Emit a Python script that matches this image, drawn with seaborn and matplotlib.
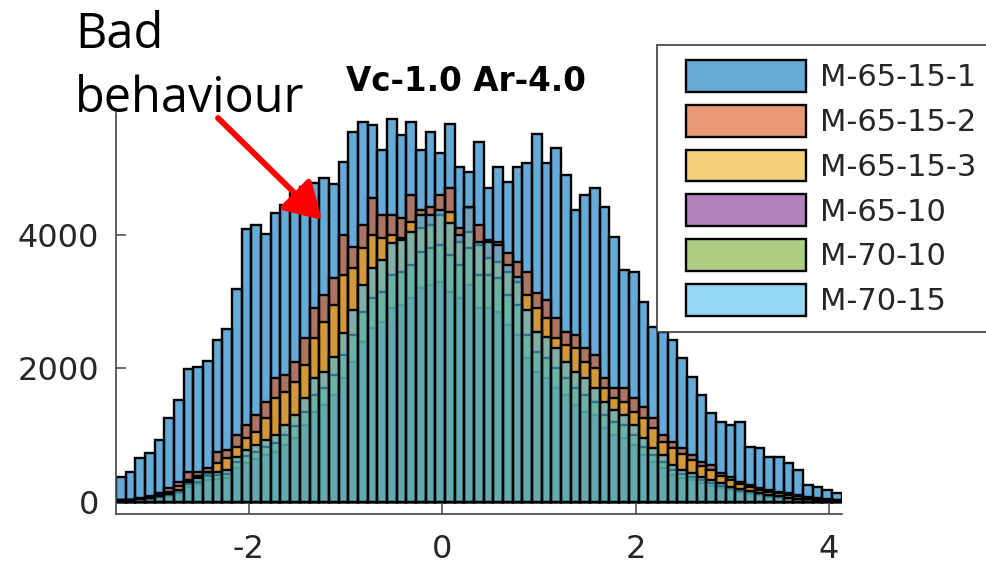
import numpy as np
import seaborn as sns
import matplotlib.pyplot as plt
from matplotlib.patches import Patch, Rectangle
from matplotlib.colors import to_rgba

# all six histograms share the same bins
bin_start = -3.37
bin_width = 0.1

labels = ['M-65-15-1', 'M-65-15-2', 'M-65-15-3', 'M-65-10', 'M-70-10', 'M-70-15']
colors = [(0, 0.447, 0.741), (0.85, 0.325, 0.098), (0.929, 0.694, 0.125),
          (0.494, 0.184, 0.556), (0.466, 0.674, 0.188), (0.301, 0.745, 0.933)]

# bin counts (75 bins each)
m65_15_1 = [375, 450, 650, 725, 925, 1250, 1525, 1985, 2025, 2115,
            2425, 2590, 3190, 4090, 4150, 4015, 4325, 4450, 4625, 4725,
            4775, 4850, 4765, 5100, 5550, 5700, 5650, 5275, 5735, 5500,
            5700, 5275, 5550, 5225, 5665, 5015, 4950, 5400, 4700, 5015,
            4800, 5015, 5085, 5515, 5085, 5300, 4900, 4375, 4600, 4700,
            4425, 3975, 3475, 3450, 3000, 2625, 2550, 2425, 2150, 1875,
            1600, 1325, 1200, 1150, 1200, 825, 800, 675, 675, 575,
            475, 250, 225, 175, 125]
m65_15_2 = [20, 30, 50, 80, 130, 200, 300, 450, 450, 500,
            750, 775, 1000, 1150, 1300, 1500, 1850, 1900, 2100, 2450,
            2900, 3100, 3350, 4000, 3825, 4150, 4550, 4300, 4300, 4250,
            4600, 4375, 4425, 4600, 4700, 4100, 4400, 4150, 3925, 3900,
            3725, 3600, 3450, 3125, 3025, 2750, 2550, 2500, 2300, 2200,
            1850, 1700, 1700, 1550, 1425, 1250, 1000, 900, 800, 700,
            600, 550, 425, 375, 300, 250, 200, 175, 150, 125,
            100, 75, 50, 40, 30]
m65_15_3 = [15, 25, 40, 60, 100, 150, 230, 330, 380, 420,
            580, 650, 820, 950, 1050, 1250, 1550, 1650, 1800, 2050,
            2450, 2700, 2950, 3400, 3500, 3800, 4000, 3950, 4000, 3950,
            4200, 4100, 4150, 4300, 4350, 3900, 4050, 3850, 3650, 3600,
            3450, 3300, 3100, 2900, 2750, 2450, 2350, 2300, 2100, 2000,
            1700, 1550, 1500, 1350, 1250, 1100, 900, 800, 720, 620,
            530, 480, 380, 330, 260, 220, 175, 150, 125, 100,
            80, 60, 40, 30, 20]
m65_10 = [15, 20, 30, 40, 60, 85, 130, 220, 260, 330,
          340, 360, 500, 580, 640, 700, 750, 850, 950, 1150,
          1350, 1450, 1600, 1850, 2100, 2400, 2600, 2700, 2900, 2950,
          3050, 3200, 3250, 3300, 3150, 3050, 3250, 2900, 2900, 2850,
          2650, 2500, 2150, 1950, 1850, 1700, 1600, 1450, 1350, 1300,
          1100, 1000, 950, 850, 700, 600, 500, 400, 350, 320,
          280, 240, 200, 170, 140, 120, 95, 75, 60, 45,
          35, 25, 18, 12, 8]
m70_10 = [20, 25, 35, 45, 70, 100, 150, 260, 300, 390,
          400, 420, 590, 680, 750, 820, 880, 1000, 1130, 1350,
          1600, 1700, 1900, 2200, 2500, 2850, 3050, 3150, 3400, 3450,
          3550, 3750, 3800, 3850, 3700, 3550, 3800, 3400, 3400, 3350,
          3100, 2950, 2500, 2250, 2150, 2000, 1850, 1700, 1600, 1500,
          1300, 1200, 1150, 1000, 820, 700, 600, 480, 410, 370,
          320, 280, 240, 200, 165, 140, 110, 90, 70, 50,
          40, 30, 20, 15, 10]
m70_15 = [25, 30, 40, 55, 80, 120, 175, 300, 350, 450,
          450, 475, 675, 775, 850, 925, 1000, 1150, 1300, 1550,
          1850, 1950, 2175, 2525, 2875, 3250, 3500, 3625, 3875, 3925,
          4050, 4300, 4300, 4375, 4175, 4000, 4425, 3900, 3900, 3850,
          3550, 3375, 2875, 2550, 2475, 2300, 2100, 1950, 1850, 1700,
          1500, 1375, 1300, 1150, 950, 800, 700, 550, 475, 425,
          375, 325, 275, 225, 190, 160, 130, 100, 80, 60,
          45, 35, 25, 15, 10]

series = [m65_15_1, m65_15_2, m65_15_3, m65_10, m70_10, m70_15]

n_bins = len(m65_15_1)
edges = bin_start + bin_width * np.arange(n_bins + 1)
centers = edges[:-1] + bin_width / 2

sns.set_style('ticks')
plt.rcParams['font.family'] = ['DejaVu Sans']
plt.rcParams['axes.unicode_minus'] = False

W, H = 987, 569
fig = plt.figure(figsize=(W / 100, H / 100), dpi=100)
ax = fig.add_axes([116 / W, 1 - 514.3 / H, (841.7 - 116) / W, (514.3 - 113) / H])

for counts, col in zip(series, colors):
    sns.histplot(x=centers, weights=counts, bins=list(edges), color=col, alpha=0.6,
                 edgecolor='black', linewidth=1.7, ax=ax)

ax.set_xlim(edges[0], edges[-1])
ax.set_ylim(-190, 5830)
ax.set_xticks([-2, 0, 2, 4])
ax.set_yticks([0, 2000, 4000])
ax.set_xlabel('')
ax.set_ylabel('')
sns.despine(ax=ax)
for s in ['left', 'bottom']:
    ax.spines[s].set_color('#444444')
    ax.spines[s].set_linewidth(1.2)
ax.tick_params(direction='in', length=7, width=1.1, color='#444444',
               labelcolor='#262626', labelsize=23)
ax.tick_params(axis='x', pad=14)
ax.tick_params(axis='y', pad=12)

# title
fig.text(466 / W, 1 - 91 / H, 'Vc-1.0 Ar-4.0', ha='center', va='baseline',
         fontsize=23.5, fontweight='bold', color='black')

# legend box (cut off at the right edge)
fig.patches.append(Rectangle((657 / W, 1 - 332 / H), 400 / W, 287 / H,
                             transform=fig.transFigure, facecolor='white',
                             edgecolor='#3c3c3c', linewidth=1.2, zorder=5))
handles = [Patch(facecolor=to_rgba(c, 0.6), edgecolor='black', linewidth=1.7)
           for c in colors]
leg = fig.legend(handles, labels, loc='upper left',
                 bbox_to_anchor=(685.7 / W, 1 - 60 / H), frameon=False,
                 fontsize=22, borderpad=0, borderaxespad=0,
                 handlelength=3.95, handleheight=1.23, labelspacing=0.41,
                 handletextpad=0.43)
leg.set_zorder(6)
for t in leg.get_texts():
    t.set_color('#262626')

# annotation
fig.text(75 / W, 1 - 48 / H, 'Bad', fontsize=35, family='Open Sans',
         va='baseline', ha='left', color='black')
fig.text(75 / W, 1 - 112 / H, 'behaviour', fontsize=35, family='Open Sans',
         va='baseline', ha='left', color='black')
ax.annotate('', xy=(322, H - 220), xytext=(218, H - 118),
            xycoords='figure pixels', textcoords='figure pixels',
            arrowprops=dict(arrowstyle='-|>,head_length=1.1,head_width=0.65',
                            color='red', lw=4.2, mutation_scale=20,
                            shrinkA=0, shrinkB=0),
            annotation_clip=False, zorder=10)

fig.savefig('out.png', dpi=100)
